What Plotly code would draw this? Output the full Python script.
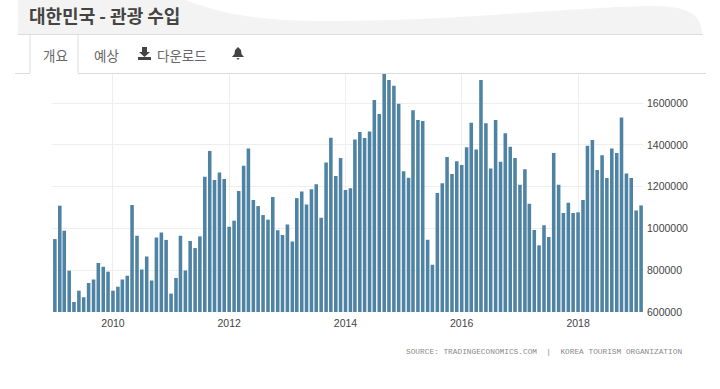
import pandas as pd
import plotly.graph_objects as go

W, H = 720, 389

values_2009 = [949, 1109, 989, 798, 648, 702, 670, 739, 756, 834, 817, 793]
values_2010 = [702, 721, 756, 774, 1112, 965, 803, 866, 751, 957, 981, 945]
values_2011 = [688, 763, 965, 799, 940, 906, 962, 1247, 1370, 1232, 1268, 1236]
values_2012 = [1008, 1037, 1179, 1300, 1383, 1136, 1107, 1064, 1042, 1150, 991, 968]
values_2013 = [1019, 937, 1145, 1177, 1115, 1187, 1211, 1051, 1316, 1434, 1251, 1337]
values_2014 = [1184, 1192, 1425, 1461, 1433, 1464, 1614, 1547, 1739, 1710, 1683, 1597]
values_2015 = [1273, 1243, 1565, 1519, 1514, 946, 826, 1169, 1216, 1342, 1260, 1322]
values_2016 = [1303, 1388, 1506, 1378, 1710, 1503, 1287, 1519, 1319, 1455, 1391, 1337]
values_2017 = [1209, 1283, 1118, 992, 919, 1015, 959, 1361, 1209, 1074, 1123, 1074]
values_2018 = [1077, 1136, 1396, 1423, 1279, 1350, 1241, 1383, 1361, 1531, 1263, 1241]
values_2019 = [1086, 1110]

thousands = (values_2009 + values_2010 + values_2011 + values_2012 + values_2013 + values_2014
             + values_2015 + values_2016 + values_2017 + values_2018 + values_2019)
visitors = [v * 1000 for v in thousands]
months = pd.date_range("2009-01-01", periods=len(visitors), freq="MS")

y_ticks = [600000, 800000, 1000000, 1200000, 1400000, 1600000]
x_ticks = ["2010-01-01", "2012-01-01", "2014-01-01", "2016-01-01", "2018-01-01"]
x_labels = ["2010", "2012", "2014", "2016", "2018"]

title_text = "대한민국 - 관광 수입"
tab_labels = ["개요", "예상", "다운로드"]
source_text = "SOURCE: TRADINGECONOMICS.COM  |  KOREA TOURISM ORGANIZATION"


def px(x):
    return x / W


def py(y):
    return 1 - y / H


def path(points):
    return "M " + " L ".join(f"{px(x):.5f},{py(y):.5f}" for x, y in points) + " Z"


def line(x0, y0, x1, y1, color="#dcdcdc"):
    return dict(type="line", xref="paper", yref="paper", layer="below",
                x0=px(x0), y0=py(y0), x1=px(x1), y1=py(y1), line=dict(color=color, width=1))


wave = ("M {},{} L {},{} C {},{} {},{} {},{} C {},{} {},{} {},{} C {},{} {},{} {},{} "
        "C {},{} {},{} {},{} L {},{} Z").format(
    px(18), py(0), px(185), py(0),
    px(215), py(10), px(240), py(21), px(330), py(21),
    px(400), py(21), px(480), py(16), px(520), py(13),
    px(570), py(10), px(620), py(6), px(650), py(6),
    px(680), py(6), px(702), py(10), px(702), py(34),
    px(18), py(34))

shapes = [
    dict(type="path", xref="paper", yref="paper", path=wave, layer="below",
         fillcolor="#f3f3f3", line=dict(width=0)),
    line(18, 34.5, 703, 34.5),
    line(15, 73.5, 30, 73.5),
    line(78, 73.5, 706, 73.5),
    line(30, 35, 30, 73),
    line(78, 35, 78, 73),
    # download icon
    dict(type="path", xref="paper", yref="paper", fillcolor="#444", line=dict(width=0),
         path=path([(142, 47), (147, 47), (147, 52), (150, 52), (144.5, 57), (139, 52), (142, 52)])),
    dict(type="path", xref="paper", yref="paper", fillcolor="#444", line=dict(width=0),
         path=path([(138, 57), (151, 57), (151, 60), (138, 60)])),
    # bell icon
    dict(type="path", xref="paper", yref="paper", fillcolor="#444", line=dict(width=0),
         path=path([(238, 47), (241, 50), (241.5, 54), (244, 57), (232, 57), (234.5, 54), (235, 50)])),
    dict(type="path", xref="paper", yref="paper", fillcolor="#444", line=dict(width=0),
         path=path([(236.5, 58), (239.5, 58), (238, 60)])),
]


def label(text, x, y, size, color, family="Noto Sans CJK KR", xanchor="center", weight=400):
    return dict(text=text, x=px(x), y=py(y), xref="paper", yref="paper", xanchor=xanchor, yanchor="middle",
                showarrow=False, font=dict(family=family, size=size, color=color, weight=weight))


annotations = [
    label(title_text, 27, 15, 18, "#444", xanchor="left", weight=700),
    label(tab_labels[0], 55, 54.5, 13.5, "#666"),
    label(tab_labels[1], 106, 54.5, 13.5, "#666"),
    label(tab_labels[2], 182, 54.5, 13.5, "#666"),
    label(source_text, 684, 352, 7.8, "#8a8a8a", family="Liberation Mono", xanchor="right"),
]

fig = go.Figure(go.Bar(x=months, y=visitors, marker=dict(color="#4f83a4", line=dict(width=0))))
fig.update_layout(
    width=W, height=H, autosize=False, showlegend=False, bargap=0.2,
    margin=dict(l=0, r=0, t=0, b=0, autoexpand=False),
    paper_bgcolor="white", plot_bgcolor="white",
    shapes=shapes, annotations=annotations,
    font=dict(family="Liberation Sans", size=10, color="#444"),
)
fig.update_xaxes(
    type="date", domain=[px(52), px(643)], range=["2008-12-14", "2019-02-13"],
    tickmode="array", tickvals=x_ticks, ticktext=x_labels, ticks="", ticklen=0, ticklabelstandoff=3,
    showgrid=True, gridcolor="#eeeeee", gridwidth=1, zeroline=False, showline=False,
    tickfont=dict(size=10.5, color="#444"),
)
fig.update_yaxes(
    domain=[py(312), py(74)], range=[600000, 1739000], side="right",
    tickmode="array", tickvals=y_ticks, ticktext=[str(t) for t in y_ticks], ticks="", ticklabelstandoff=3,
    showgrid=True, gridcolor="#eeeeee", gridwidth=1, zeroline=False, showline=False,
    tickfont=dict(size=10.5, color="#444"),
)
fig.write_html("out.html", config=dict(displayModeBar=False),
               post_script="document.body.style.margin='0';document.body.style.overflow='hidden';")
